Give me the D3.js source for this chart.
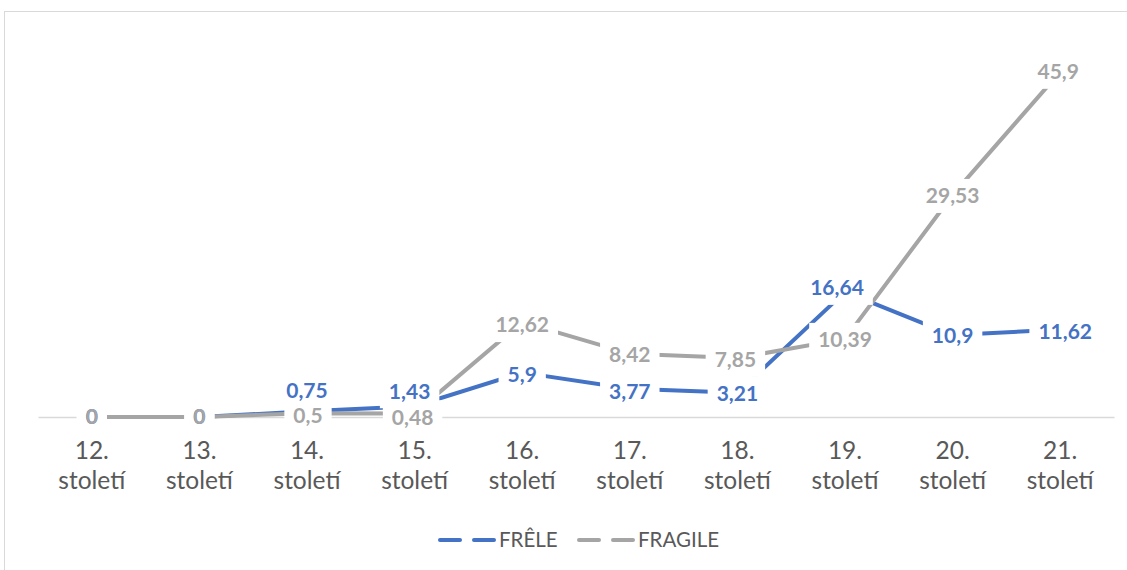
<!DOCTYPE html>
<html>
<head>
<meta charset="utf-8">
<script src="https://cdn.jsdelivr.net/npm/d3@7"></script>
<style>
  html, body { margin: 0; padding: 0; background: #fff; }
  svg { display: block; }
  text { font-family: Lato, "Open Sans", sans-serif; }
</style>
</head>
<body>
<svg id="chart" width="1127" height="570"></svg>
<script>
// ---- data ----
const categories = ["12. století", "13. století", "14. století", "15. století", "16. století",
                    "17. století", "18. století", "19. století", "20. století", "21. století"];
const freleValues   = [0, 0, 0.75, 1.43, 5.9, 3.77, 3.21, 16.64, 10.9, 11.62];
const fragileValues = [0, 0, 0.5, 0.48, 12.62, 8.42, 7.85, 10.39, 29.53, 45.9];
const freleLabels   = ["0", "0", "0,75", "1,43", "5,9", "3,77", "3,21", "16,64", "10,9", "11,62"];
const fragileLabels = ["0", "0", "0,5", "0,48", "12,62", "8,42", "7,85", "10,39", "29,53", "45,9"];
const seriesNames   = ["FRÊLE", "FRAGILE"];

// ---- layout / style ----
const colors = ["#4472C4", "#A5A5A5"];
const plot = { left: 38, right: 1114, top: 41, bottom: 417 };
// manual label nudges (Excel label placement)
const freleLabelShift = [[0,0],[0,0],[0,-21],[-5,-15],[0,2],[0,3],[0,1],[-8,-4],[0,1],[5,2]];
const fragileLabelShift = [[0,0],[0,0],[1,2],[-2,4],[0,3],[0,1],[-2,2],[0,1],[0,1],[-2,0]];

const svg = d3.select("#chart");

// chart border (Excel chart area)
svg.append("rect")
  .attr("x", 4.5).attr("y", 11.5)
  .attr("width", 1140).attr("height", 580)
  .attr("fill", "none").attr("stroke", "#D9D9D9").attr("stroke-width", 1);

const x = d3.scaleBand().domain(categories).range([plot.left, plot.right]);
const y = d3.scaleLinear().domain([0, 50]).range([plot.bottom, plot.top]);
const cx = c => x(c) + x.bandwidth() / 2;

// baseline gridline / axis
const xAxis = d3.axisBottom(x).tickSize(0).tickFormat("");
const gAxis = svg.append("g").attr("transform", `translate(0,${plot.bottom})`).call(xAxis);
gAxis.select(".domain").attr("stroke", "#D9D9D9").attr("stroke-width", 1.5);

// category labels (two lines)
const catG = svg.append("g");
categories.forEach(c => {
  const parts = c.split(" ");
  const t = catG.append("text")
    .attr("x", cx(c)).attr("text-anchor", "middle")
    .attr("fill", "#595959").attr("font-size", 24.5);
  t.append("tspan").attr("x", cx(c)).attr("y", 459).text(parts[0]);
  t.append("tspan").attr("x", cx(c)).attr("y", 489).text(parts[1]);
});

const series = [
  { name: seriesNames[0], values: freleValues, labels: freleLabels, shift: freleLabelShift, color: colors[0] },
  { name: seriesNames[1], values: fragileValues, labels: fragileLabels, shift: fragileLabelShift, color: colors[1] }
];

const line = d3.line().x((d, i) => cx(categories[i])).y(d => y(d));

// lines
series.forEach(s => {
  svg.append("path")
    .datum(s.values)
    .attr("d", line)
    .attr("fill", "none")
    .attr("stroke", s.color)
    .attr("stroke-width", 4)
    .attr("stroke-linejoin", "round");
});

// data labels: white boxes first, then all texts on top
const boxG = svg.append("g");
const textG = svg.append("g");
series.forEach(s => {
  s.values.forEach((v, i) => {
    const px = cx(categories[i]) + s.shift[i][0];
    const py = y(v) + s.shift[i][1];
    const rect = boxG.append("rect").attr("fill", "#fff");
    const t = textG.append("text")
      .attr("x", px).attr("y", py)
      .attr("dy", "0.35em")
      .attr("text-anchor", "middle")
      .attr("font-size", 21)
      .attr("font-weight", "bold")
      .attr("fill", s.color)
      .text(s.labels[i]);
    const w = t.node().getComputedTextLength();
    rect.attr("x", px - w / 2 - 9).attr("y", py - 17)
        .attr("width", w + 18).attr("height", 34);
  });
});

// legend
const legend = svg.append("g");
const legendItems = [
  { x: 440, name: seriesNames[0], color: colors[0] },
  { x: 579, name: seriesNames[1], color: colors[1] }
];
legendItems.forEach(it => {
  legend.append("line").attr("x1", it.x).attr("x2", it.x + 20).attr("y1", 540).attr("y2", 540)
    .attr("stroke", it.color).attr("stroke-width", 4).attr("stroke-linecap", "round");
  legend.append("line").attr("x1", it.x + 34).attr("x2", it.x + 54).attr("y1", 540).attr("y2", 540)
    .attr("stroke", it.color).attr("stroke-width", 4).attr("stroke-linecap", "round");
  legend.append("text").attr("x", it.x + 59).attr("y", 540).attr("dy", "0.35em")
    .attr("font-size", 20.5).attr("fill", "#595959").text(it.name);
});
</script>
</body>
</html>
